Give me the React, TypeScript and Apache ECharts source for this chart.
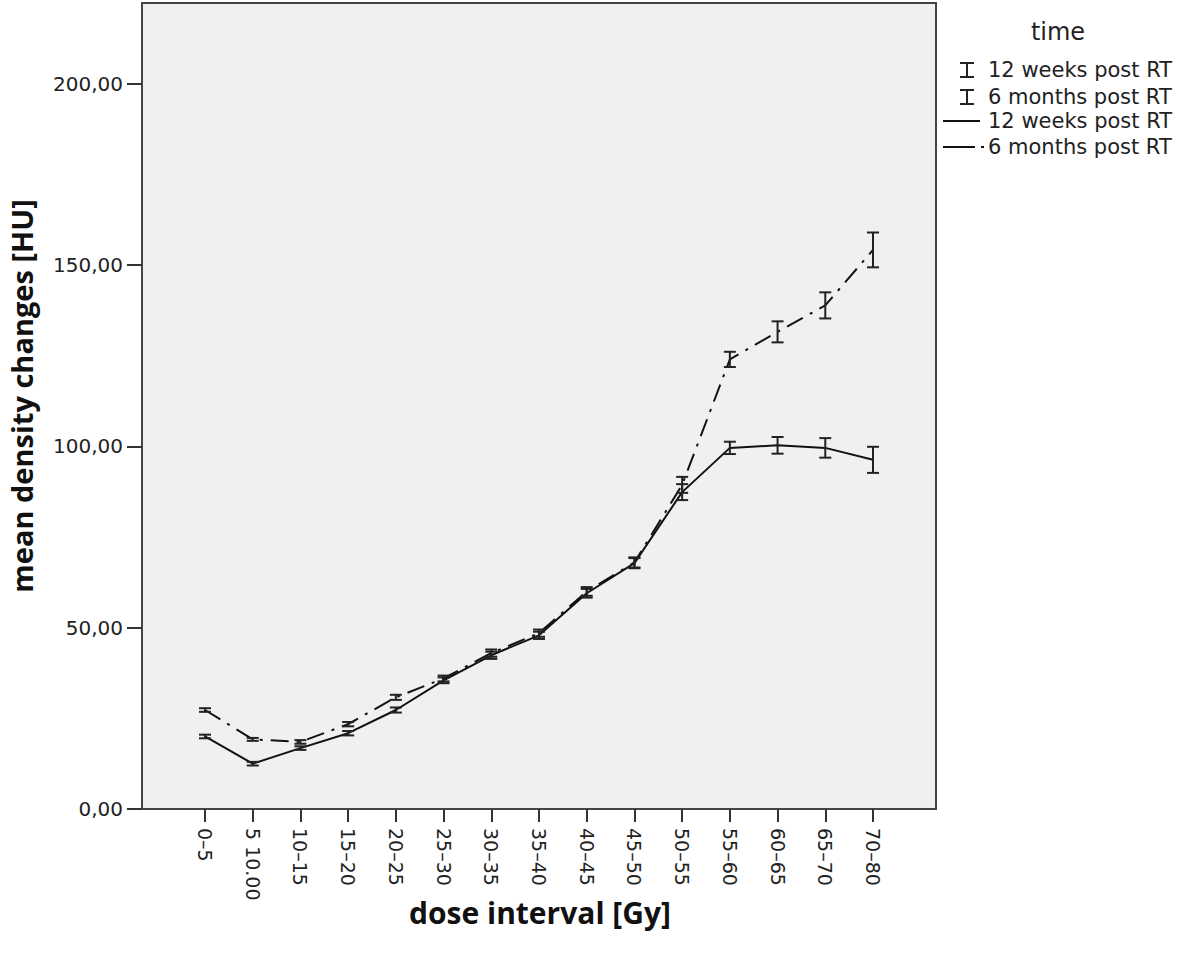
import React, { useEffect, useRef } from "react";
import * as echarts from "echarts";

const categories = ["0–5", "5 10.00", "10–15", "15–20", "20–25", "25–30", "30–35", "35–40", "40–45", "45–50", "50–55", "55–60", "60–65", "65–70", "70–80"];
const weeks12 = [20.0, 12.5, 16.8, 20.9, 27.3, 35.5, 42.4, 47.9, 59.5, 67.8, 87.4, 99.6, 100.3, 99.6, 96.3];
const weeks12Err = [0.5, 0.5, 0.5, 0.6, 0.7, 0.8, 1.0, 1.0, 1.2, 1.4, 2.2, 1.7, 2.3, 2.7, 3.6];
const months6 = [27.3, 19.2, 18.5, 23.4, 30.8, 36.0, 43.0, 48.5, 60.0, 68.0, 89.4, 124.0, 131.6, 138.9, 154.2];
const months6Err = [0.5, 0.4, 0.5, 0.6, 0.7, 0.8, 1.0, 1.0, 1.2, 1.4, 2.2, 2.1, 2.9, 3.6, 4.8];
const yTicks = [0, 50, 100, 150, 200];
const legendLabels = ["12 weeks post RT", "6 months post RT", "12 weeks post RT", "6 months post RT"];

const Y_MAX = 222.3;
const DASH_DOT = [18, 8, 3, 8];
const INK = "#111";

function errData(mean: number[], err: number[]) {
  return mean.map((m, i) => [i, m - err[i], m + err[i]]);
}

function errSeries(name: string, mean: number[], err: number[]) {
  return {
    name,
    type: "custom",
    xAxisIndex: 1,
    yAxisIndex: 1,
    encode: { x: 0, y: [1, 2] },
    data: errData(mean, err),
    z: 5,
    renderItem: (_p: any, api: any) => {
      const x = api.value(0);
      const lo = api.coord([x, api.value(1)]);
      const hi = api.coord([x, api.value(2)]);
      const w = 6;
      const st = { stroke: "#222", lineWidth: 2 };
      return {
        type: "group",
        children: [
          { type: "line", shape: { x1: lo[0], y1: lo[1], x2: hi[0], y2: hi[1] }, style: st },
          { type: "line", shape: { x1: lo[0] - w, y1: lo[1], x2: lo[0] + w, y2: lo[1] }, style: st },
          { type: "line", shape: { x1: hi[0] - w, y1: hi[1], x2: hi[0] + w, y2: hi[1] }, style: st },
        ],
      };
    },
  };
}

export default function App() {
  const ref = useRef<HTMLDivElement>(null);
  useEffect(() => {
    if (!ref.current) return;
    const chart = echarts.init(ref.current, undefined, { renderer: "svg" });
    const legendFont = { fontFamily: "DejaVu Sans", fontSize: 21, fill: "#222" };
    const rowY = [70, 97, 121, 147];
    const errIcon = (y: number) => [
      { type: "line", shape: { x1: 967, y1: y - 7, x2: 967, y2: y + 7 }, style: { stroke: "#222", lineWidth: 2 } },
      { type: "line", shape: { x1: 960, y1: y - 7, x2: 974, y2: y - 7 }, style: { stroke: "#222", lineWidth: 2 } },
      { type: "line", shape: { x1: 960, y1: y + 7, x2: 974, y2: y + 7 }, style: { stroke: "#222", lineWidth: 2 } },
    ];
    chart.setOption({
      animation: false,
      grid: [
        { left: 142, top: 3, width: 794, height: 806, show: true, backgroundColor: "#F0F0F3", borderColor: "#444", borderWidth: 2, z: 0 },
        { left: 205, top: 3, width: 668, height: 806, show: false },
      ],
      xAxis: [
        { type: "value", gridIndex: 0, min: 0, max: 1, show: false },
        {
          type: "category",
          gridIndex: 1,
          data: categories,
          boundaryGap: false,
          axisLine: { show: false },
          axisTick: { show: true, length: 13, lineStyle: { color: "#333", width: 2 } },
          axisLabel: { rotate: -90, margin: 19, fontFamily: "DejaVu Sans", fontSize: 19, color: "#222", interval: 0 },
          splitLine: { show: false },
        },
      ],
      yAxis: [
        {
          type: "value",
          gridIndex: 0,
          min: 0,
          max: Y_MAX,
          interval: 50,
          axisLine: { show: false },
          axisTick: { show: true, length: 15, lineStyle: { color: "#333", width: 2 }, customValues: yTicks },
          axisLabel: {
            margin: 19,
            fontFamily: "DejaVu Sans",
            fontSize: 20,
            color: "#222",
            customValues: yTicks,
            formatter: (v: number) => v.toFixed(2).replace(".", ","),
          },
          splitLine: { show: false },
        },
        { type: "value", gridIndex: 1, min: 0, max: Y_MAX, show: false },
      ],
      series: [
        {
          name: "12 weeks post RT",
          type: "line",
          xAxisIndex: 1,
          yAxisIndex: 1,
          data: weeks12,
          symbol: "none",
          lineStyle: { color: INK, width: 2 },
          z: 4,
        },
        {
          name: "6 months post RT",
          type: "line",
          xAxisIndex: 1,
          yAxisIndex: 1,
          data: months6,
          symbol: "none",
          lineStyle: { color: INK, width: 2, type: DASH_DOT },
          z: 4,
        },
        errSeries("12 weeks post RT err", weeks12, weeks12Err),
        errSeries("6 months post RT err", months6, months6Err),
      ],
      graphic: [
        {
          type: "text",
          x: 540,
          y: 912,
          style: { text: "dose interval [Gy]", fontFamily: "Open Sans", fontWeight: "bold", fontSize: 30, fill: "#111", textAlign: "center", textVerticalAlign: "middle" },
        },
        {
          type: "text",
          x: 21,
          y: 396,
          rotation: Math.PI / 2,
          style: { text: "mean density changes [HU]", fontFamily: "Open Sans", fontWeight: "bold", fontSize: 29, fill: "#111", textAlign: "center", textVerticalAlign: "middle" },
        },
        {
          type: "text",
          x: 1058,
          y: 32,
          style: { text: "time", fontFamily: "DejaVu Sans", fontSize: 24, fill: "#222", textAlign: "center", textVerticalAlign: "middle" },
        },
        ...errIcon(rowY[0]),
        ...errIcon(rowY[1]),
        { type: "line", shape: { x1: 943, y1: rowY[2], x2: 980, y2: rowY[2] }, style: { stroke: INK, lineWidth: 2 } },
        { type: "line", shape: { x1: 943, y1: rowY[3], x2: 975, y2: rowY[3] }, style: { stroke: INK, lineWidth: 2 } },
        { type: "line", shape: { x1: 981, y1: rowY[3], x2: 984, y2: rowY[3] }, style: { stroke: INK, lineWidth: 2 } },
        ...legendLabels.map((t, i) => ({
          type: "text",
          x: 988,
          y: rowY[i],
          style: { ...legendFont, text: t, textAlign: "left", textVerticalAlign: "middle" },
        })),
      ],
    });
    return () => chart.dispose();
  }, []);
  return <div ref={ref} style={{ position: "absolute", left: 0, top: 0, width: 1181, height: 957, background: "#fff" }} />;
}
